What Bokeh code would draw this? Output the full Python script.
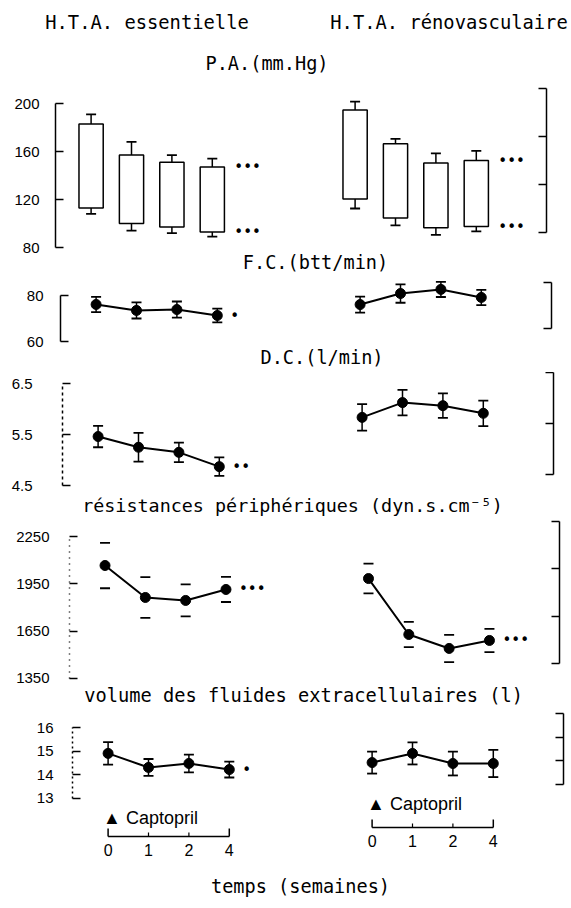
import numpy as np
from bokeh.plotting import figure
from bokeh.layouts import column, row
from bokeh.models import (LinearAxis, FixedTicker, Range1d, Label, CustomJSTickFormatter,
                          Spacer)
from bokeh.core.properties import value
from bokeh.embed import file_html
from bokeh.resources import INLINE

# ------------------------------------------------------------------ data
weeks = ["0", "1", "2", "4"]
group_titles = ["H.T.A. essentielle", "H.T.A. rénovasculaire"]
drug_label = "▲ Captopril"
x_title = "temps (semaines)"

# P.A. (mm Hg): systolic / diastolic means and SEM
pa_title = "P.A.(mm.Hg)"
pa_ticks = [80, 120, 160, 200]
pa_ess_sys = [183, 157, 151, 147]
pa_ess_sys_sem = [8, 11, 6, 7]
pa_ess_dia = [113, 100, 97, 93]
pa_ess_dia_sem = [5, 6, 5, 4]
pa_reno_sys = [182, 154, 138, 140]
pa_reno_sys_sem = [7, 4, 8, 8]
pa_reno_dia = [108, 92, 84, 85]
pa_reno_dia_sem = [8, 6, 6, 4]
pa_sig = ["***", "***"]

# F.C. (btt/min)
fc_title = "F.C.(btt/min)"
fc_ticks = [60, 80]
fc_ess = [76.1, 73.5, 73.9, 71.3]
fc_ess_sem = [3.3, 3.5, 3.5, 3.0]
fc_reno = [70.4, 75.2, 77.0, 73.5]
fc_reno_sem = [3.5, 4.0, 3.3, 3.3]
fc_sig = ["*", ""]

# D.C. (l/min)
dc_title = "D.C.(l/min)"
dc_ticks = [4.5, 5.5, 6.5]
dc_ess = [5.46, 5.25, 5.15, 4.87]
dc_ess_sem = [0.21, 0.28, 0.19, 0.18]
dc_reno = [5.62, 5.91, 5.85, 5.70]
dc_reno_sem = [0.26, 0.25, 0.24, 0.25]
dc_sig = ["**", ""]

# résistances périphériques
rp_title = "résistances périphériques (dyn.s.cm⁻⁵)"
rp_ticks = [1350, 1650, 1950, 2250]
rp_ess = [2068, 1864, 1845, 1915]
rp_ess_sem = [145, 130, 102, 80]
rp_reno = [1889, 1532, 1443, 1494]
rp_reno_sem = [95, 80, 87, 74]
rp_sig = ["***", "***"]

# volume des fluides extracellulaires (l)
ecf_title = "volume des fluides extracellulaires (l)"
ecf_ticks = [13, 14, 15, 16]
ecf_ess = [14.91, 14.31, 14.48, 14.22]
ecf_ess_sem = [0.48, 0.36, 0.38, 0.34]
ecf_reno = [13.92, 14.31, 13.88, 13.88]
ecf_reno_sem = [0.47, 0.47, 0.51, 0.58]
ecf_sig = ["*", ""]

# ------------------------------------------------------------------ layout constants
PAGE_W = 571
BL, BR = 55, 8
FRAME_W = 491
FIG_W = BL + FRAME_W + BR
PX_PER_SLOT = 40.4
SLOT0_PX = 35.6
REN_OFFSET = (FRAME_W - 191.4 - SLOT0_PX) / PX_PER_SLOT
X_START = -SLOT0_PX / PX_PER_SLOT
X_END = X_START + FRAME_W / PX_PER_SLOT

MONO = "DejaVu Sans Mono"
SANS = "Liberation Sans"
TITLE_SIZE = "18.6px"


class Row:
    """Vertical strip of the page: top/bottom in page px, frame left in page px."""
    def __init__(self, top, bottom, left, unit, ref, ref_px, shift):
        self.top, self.bottom, self.left = top, bottom, left
        self.unit, self.ref, self.ref_px, self.shift = unit, ref, ref_px, shift

    def y(self, py, reno=False):
        rp = self.ref_px - (self.shift if reno else 0)
        return self.ref + (rp - py) / self.unit

    def x(self, px):
        return X_START + (px - self.left) / PX_PER_SLOT


def base_fig(width, height, **kw):
    p = figure(width=width, height=height, title=None, toolbar_location=None,
               output_backend="svg", x_axis_location=None, y_axis_location=None,
               min_border_top=0, min_border_bottom=0, **kw)
    p.grid.visible = False
    p.outline_line_color = None
    p.background_fill_color = "white"
    p.border_fill_color = "white"
    return p


def make_fig(r):
    p = base_fig(FIG_W, r.bottom - r.top, min_border_left=BL, min_border_right=BR,
                 x_range=Range1d(X_START, X_END),
                 y_range=Range1d(r.y(r.bottom), r.y(r.top)))
    p.extra_y_ranges = {"reno": Range1d(r.y(r.bottom, True), r.y(r.top, True))}
    return p


def add_axes(p, ticks, standoff, left_dash="solid", label_size="15px"):
    common = dict(bounds=(min(ticks), max(ticks)), major_tick_in=8, major_tick_out=0,
                  minor_tick_in=0, minor_tick_out=0, axis_line_width=1.5,
                  major_tick_line_width=1.5, axis_line_color="black",
                  major_tick_line_color="black")
    la = LinearAxis(ticker=FixedTicker(ticks=ticks), major_label_standoff=standoff,
                    major_label_text_font=SANS, major_label_text_font_size=label_size,
                    major_label_text_color="black", axis_line_dash=left_dash, **common)
    p.add_layout(la, "left")
    ra = LinearAxis(y_range_name="reno", ticker=FixedTicker(ticks=ticks),
                    formatter=CustomJSTickFormatter(code="return ''"),
                    major_label_standoff=0, **common)
    p.add_layout(ra, "right")


def add_title(p, r, text, cx, cy, size=TITLE_SIZE):
    p.add_layout(Label(x=r.x(cx), y=r.y(cy), text=text, text_align="center",
                       text_baseline="middle", text_font=MONO, text_font_size=size,
                       text_color="black"))


def stars(p, x, y, s, rn, off):
    if s:
        p.text(x=[x], y=[y], text=["•" * len(s)], x_offset=off, text_align="left",
               text_baseline="middle", text_font=value("DejaVu Sans"),
               text_font_size="15px", text_color="black", y_range_name=rn)


def line_series(p, vals, sem, off, rn, sig, stems=True):
    x = np.arange(len(weeks)) + off
    v = np.asarray(vals, float)
    s = np.asarray(sem, float)
    if stems:
        p.segment(x, v - s, x, v + s, line_width=1.5, line_color="black", y_range_name=rn)
    p.scatter(np.r_[x, x], np.r_[v - s, v + s], marker="dash", size=10, line_width=1.8,
              line_color="black", y_range_name=rn)
    p.line(x, v, line_width=2, line_color="black", y_range_name=rn)
    p.scatter(x, v, size=10, marker="circle", fill_color="black", line_color="black",
              y_range_name=rn)
    stars(p, x[-1], v[-1], sig, rn, 13)


items = []

# ---------------------------------------------------------------- header strip
HEAD_H = 78
ph = base_fig(PAGE_W, HEAD_H, min_border_left=0, min_border_right=0,
              x_range=Range1d(0, PAGE_W), y_range=Range1d(HEAD_H, 0))
for txt, cx, cy, size in [(group_titles[0], 146.5, 22, "18.8px"),
                          (group_titles[1], 448.5, 22, "18.8px"),
                          (pa_title, 266.5, 63, TITLE_SIZE)]:
    ph.add_layout(Label(x=cx, y=cy, text=txt, text_align="center", text_baseline="middle",
                        text_font=MONO, text_font_size=size, text_color="black"))
items.append(ph)

# ---------------------------------------------------------------- row 1 : P.A.
r1 = Row(HEAD_H, 276, 55, 1.2, 200, 103, 15)
p1 = make_fig(r1)
add_axes(p1, pa_ticks, 16)
for sys_, ssem, dia, dsem, off, rn, sig in [
        (pa_ess_sys, pa_ess_sys_sem, pa_ess_dia, pa_ess_dia_sem, 0, "default", pa_sig[0]),
        (pa_reno_sys, pa_reno_sys_sem, pa_reno_dia, pa_reno_dia_sem, REN_OFFSET, "reno", pa_sig[1])]:
    x = np.arange(len(weeks)) + off
    sy, ss = np.asarray(sys_, float), np.asarray(ssem, float)
    dy, ds = np.asarray(dia, float), np.asarray(dsem, float)
    p1.segment(x, sy, x, sy + ss, line_width=1.5, line_color="black", y_range_name=rn)
    p1.segment(x, dy - ds, x, dy, line_width=1.5, line_color="black", y_range_name=rn)
    p1.scatter(np.r_[x, x], np.r_[sy + ss, dy - ds], marker="dash", size=10, line_width=1.8,
               line_color="black", y_range_name=rn)
    p1.vbar(x=x, bottom=dy, top=sy, width=0.6, fill_color="white", line_color="black",
            line_width=1.5, y_range_name=rn)
    stars(p1, x[-1], sy[-1], sig, rn, 22)
    stars(p1, x[-1], dy[-1], sig, rn, 22)
add_title(p1, r1, fc_title, 315, 262)
items.append((r1, p1))

# ---------------------------------------------------------------- row 2 : F.C.
r2 = Row(276, 372, 60, 2.3, 80, 295, 13)
p2 = make_fig(r2)
add_axes(p2, fc_ticks, 17)
line_series(p2, fc_ess, fc_ess_sem, 0, "default", fc_sig[0])
line_series(p2, fc_reno, fc_reno_sem, REN_OFFSET, "reno", fc_sig[1])
add_title(p2, r2, dc_title, 321.5, 357)
items.append((r2, p2))

# ---------------------------------------------------------------- row 3 : D.C.
r3 = Row(372, 519, 62, 51, 5.5, 434, 11)
p3 = make_fig(r3)
add_axes(p3, dc_ticks, 30, left_dash="3 3")
line_series(p3, dc_ess, dc_ess_sem, 0, "default", dc_sig[0])
line_series(p3, dc_reno, dc_reno_sem, REN_OFFSET, "reno", dc_sig[1])
add_title(p3, r3, rp_title, 292, 505, "18.4px")
items.append((r3, p3))

# ---------------------------------------------------------------- row 4 : résistances
r4 = Row(519, 708, 68, 0.1567, 1800, 607, 15)
p4 = make_fig(r4)
add_axes(p4, rp_ticks, 20, left_dash="1 5")
line_series(p4, rp_ess, rp_ess_sem, 0, "default", rp_sig[0], stems=False)
line_series(p4, rp_reno, rp_reno_sem, REN_OFFSET, "reno", rp_sig[1], stems=False)
add_title(p4, r4, ecf_title, 302.5, 695, "18.7px")
items.append((r4, p4))

# ---------------------------------------------------------------- row 5 : ECF + time axis
r5 = Row(708, 908, 72, 23.4, 14.5, 762.5, 14)
p5 = make_fig(r5)
add_axes(p5, ecf_ticks, 19, left_dash="2 3")
line_series(p5, ecf_ess, ecf_ess_sem, 0, "default", ecf_sig[0])
line_series(p5, ecf_reno, ecf_reno_sem, REN_OFFSET, "reno", ecf_sig[1])
add_title(p5, r5, x_title, 300, 886)

# time brackets: page-pixel levels of bracket line, drug label
for off, yb, ycap in [(0, 836, 817), (REN_OFFSET, 827, 803)]:
    xs = np.arange(len(weeks)) + off
    b = r5.y(yb)
    hook = r5.y(yb - 8)
    tick = r5.y(yb - 4)
    p5.segment(xs[0], b, xs[-1], b, line_width=1.5, line_color="black")
    p5.segment(xs[[0, -1]], [b, b], xs[[0, -1]], [hook, hook], line_width=1.5,
               line_color="black")
    p5.segment(xs[1:-1], [b] * (len(xs) - 2), xs[1:-1], [tick] * (len(xs) - 2),
               line_width=1.2, line_color="black")
    p5.text(x=xs, y=[r5.y(yb + 13)] * len(xs), text=weeks, text_align="center",
            text_baseline="middle", text_font=value(SANS), text_font_size="16px",
            text_color="black")
    p5.text(x=[xs[0]], y=[r5.y(ycap)], text=[drug_label], x_offset=-5, text_align="left",
            text_baseline="middle", text_font=value(SANS), text_font_size="18px",
            text_color="black")
items.append((r5, p5))

children = [items[0]]
for r, p in items[1:]:
    children.append(row(Spacer(width=r.left - BL, height=r.bottom - r.top), p, spacing=0))

layout = column(*children, spacing=0)
open("out.html", "w").write(file_html(layout, INLINE))
